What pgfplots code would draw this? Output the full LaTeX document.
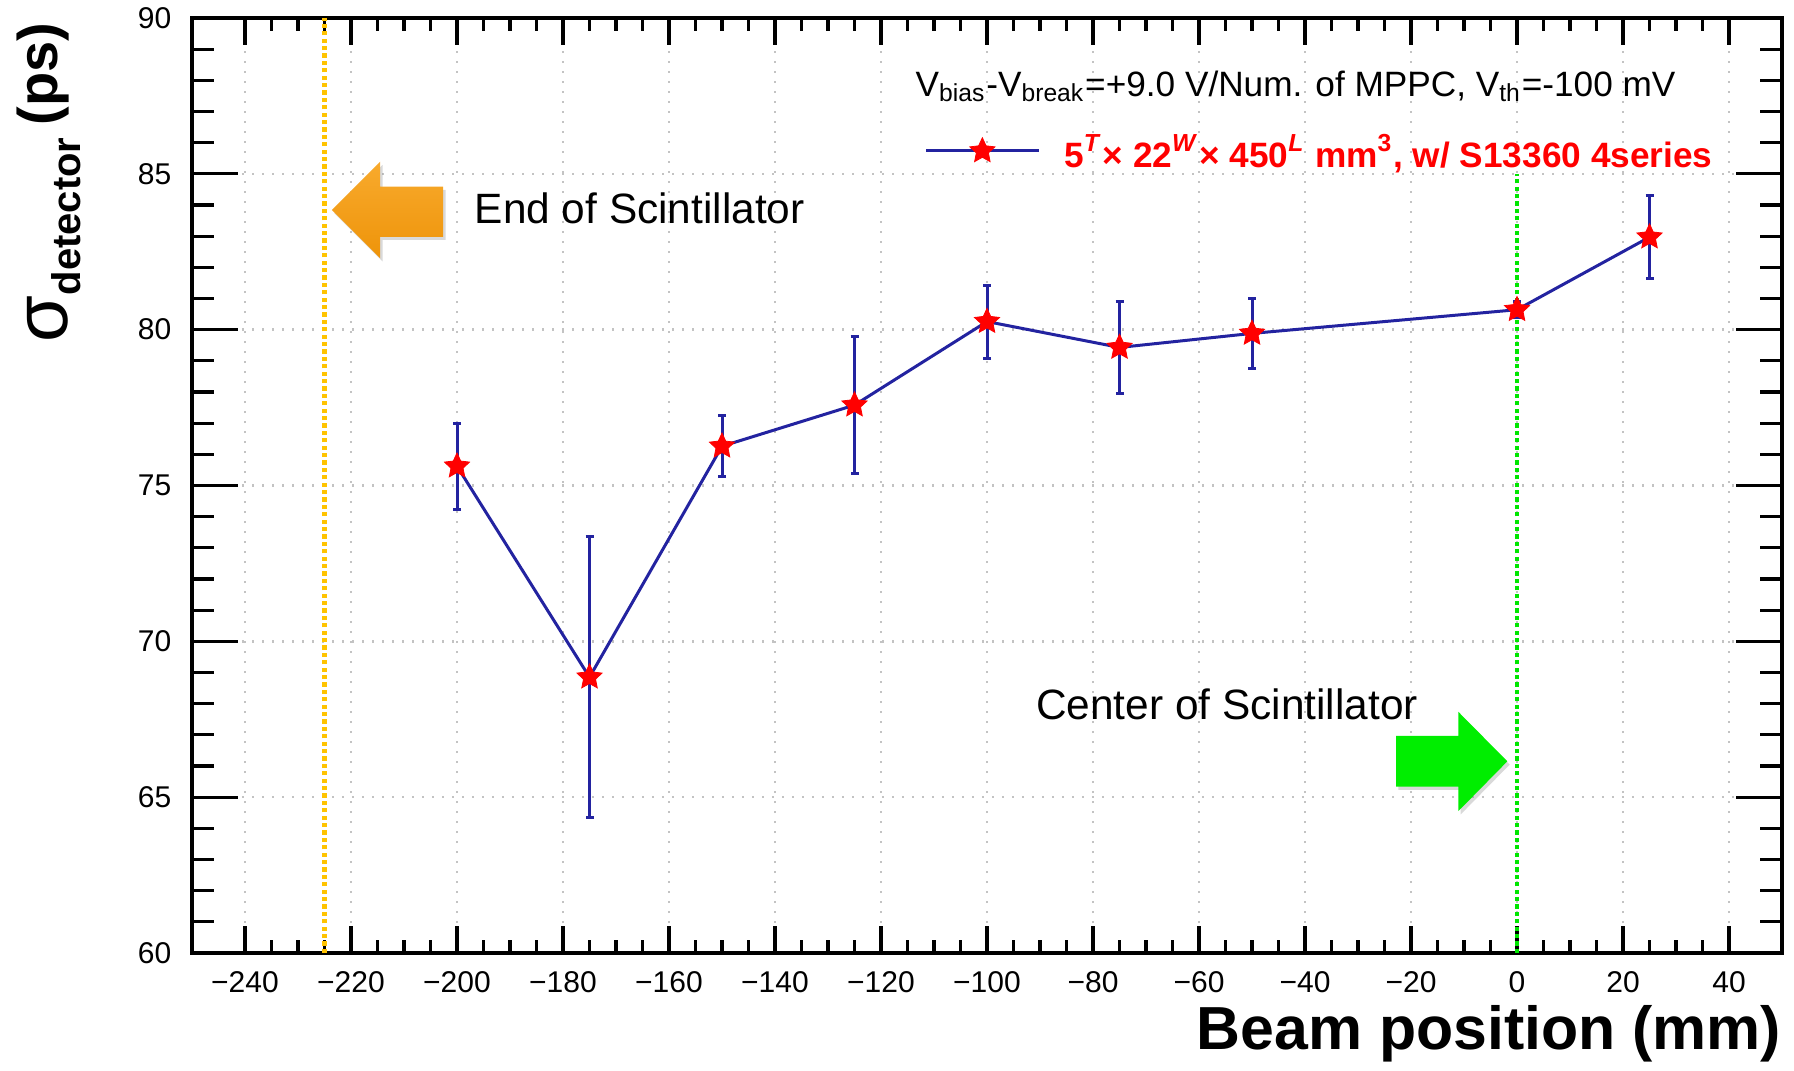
\documentclass[border=0pt]{standalone}
\usepackage{fontspec}
\setmainfont{Liberation Sans}
\usepackage{pgfplots}
\pgfplotsset{compat=1.18}
\usepackage{pgfplotstable}
\usetikzlibrary{shadows}

\definecolor{dataBlue}{RGB}{35,35,160}
\definecolor{gridgray}{RGB}{195,195,195}
\definecolor{orangeL}{RGB}{255,195,0}
\definecolor{greenL}{RGB}{0,230,0}
\definecolor{orTop}{RGB}{248,170,45}
\definecolor{orBot}{RGB}{238,148,10}
\definecolor{grArrow}{RGB}{0,238,0}

\pgfdeclareplotmark{rstar}{%
 \pgfpathmoveto{\pgfpointpolar{90}{\pgfplotmarksize}}%
 \pgfpathlineto{\pgfpointpolar{126}{0.48\pgfplotmarksize}}%
 \pgfpathlineto{\pgfpointpolar{162}{\pgfplotmarksize}}%
 \pgfpathlineto{\pgfpointpolar{198}{0.48\pgfplotmarksize}}%
 \pgfpathlineto{\pgfpointpolar{234}{\pgfplotmarksize}}%
 \pgfpathlineto{\pgfpointpolar{270}{0.48\pgfplotmarksize}}%
 \pgfpathlineto{\pgfpointpolar{306}{\pgfplotmarksize}}%
 \pgfpathlineto{\pgfpointpolar{342}{0.48\pgfplotmarksize}}%
 \pgfpathlineto{\pgfpointpolar{18}{\pgfplotmarksize}}%
 \pgfpathlineto{\pgfpointpolar{54}{0.48\pgfplotmarksize}}%
 \pgfpathclose
 \pgfusepathqfillstroke}

\pgfplotstableread{
x y e
-200 75.62 1.38
-175 68.85 4.51
-150 76.26 0.98
-125 77.58 2.20
-100 80.26 1.17
-75 79.43 1.48
-50 79.88 1.11
0 80.64 0.25
25 82.97 1.33
}\datatable

\begin{document}
\begin{tikzpicture}
% axis with y ticks and horizontal grid
\begin{axis}[
  scale only axis, width=397.5pt, height=233.75pt,
  xmin=-250, xmax=50, ymin=60, ymax=90,
  xtick=\empty,
  ytick={60,65,...,90},
  yticklabels={60,65,70,75,80,85,90},
  minor y tick num=4,
  ymajorgrids,
  major grid style={gridgray, line width=0.6pt, dash pattern=on 0.6pt off 1.9pt},
  major tick length=11.5pt, minor tick length=5.6pt,
  tick style={line width=0.8pt, black},
  axis line style={line width=0.9pt},
  yticklabel style={font=\fontsize{7.5}{9}\selectfont, inner sep=0pt, xshift=-5pt},
  /pgf/number format/assume math mode=true,
]
\end{axis}
% main axis
\begin{axis}[
  scale only axis, width=397.5pt, height=233.75pt,
  xmin=-250, xmax=50, ymin=60, ymax=90,
  xtick={-240,-220,...,40},
  xticklabels={−240,−220,−200,−180,−160,−140,−120,−100,−80,−60,−40,−20,0,20,40},
  minor x tick num=3,
  ytick=\empty,
  xmajorgrids,
  major grid style={gridgray, line width=0.6pt, dash pattern=on 0.6pt off 1.9pt},
  major tick length=6.7pt, minor tick length=3.2pt,
  tick style={line width=0.8pt, black},
  axis line style={line width=0.9pt},
  xticklabel style={font=\fontsize{7.5}{9}\selectfont, inner sep=0pt, yshift=-4.4pt},
  /pgf/number format/assume math mode=true,
  xlabel={\bfseries\fontsize{15.2}{18}\selectfont Beam position (mm)},
  ylabel={{\fontsize{19}{19}\selectfont\raisebox{-2.7pt}{σ}}\raisebox{-5.75pt}{\fontsize{10}{10}\selectfont\bfseries detector}\hspace{3pt}{\fontsize{14}{14}\selectfont\bfseries (ps)}},
  every axis x label/.style={at={(axis description cs:1,-0.1037)}, anchor=base east, inner sep=0pt},
  every axis y label/.style={at={(axis description cs:-0.0849,0.9957)}, rotate=90, anchor=base east, inner sep=0pt},
  legend style={draw=none, fill=none, at={(0.4604,0.8578)}, anchor=west,
    inner xsep=0pt, inner ysep=0pt, cells={anchor=west},
    nodes={inner sep=0pt, text depth=0pt, text=red, font=\bfseries\fontsize{8.8}{10}\selectfont}},
  legend image code/.code={%
    \draw[mark repeat=2, mark phase=2, #1] plot coordinates {(0pt,0pt) (14pt,0pt) (28.25pt,0pt)};
    \path[draw=none, fill=none] (0pt,0pt) -- (34.5pt,0pt);
  },
]
% vertical reference lines
\addplot[orangeL, line width=1.05pt, dash pattern=on 1.05pt off 0.8pt, forget plot] coordinates {(-225,60) (-225,90)};
\addplot[greenL, line width=1.05pt, dash pattern=on 1.05pt off 0.8pt, forget plot] coordinates {(0,60) (0,85)};
% arrows
\path[top color=orTop, bottom color=orBot, drop shadow={shadow xshift=0.6pt, shadow yshift=-0.8pt, opacity=0.3}]
  (axis cs:-223.6,83.84) -- (axis cs:-214.5,85.39) -- (axis cs:-214.5,84.59) -- (axis cs:-202.6,84.59)
  -- (axis cs:-202.6,82.98) -- (axis cs:-214.5,82.98) -- (axis cs:-214.5,82.29) -- cycle;
\path[fill=grArrow, drop shadow={shadow xshift=0.6pt, shadow yshift=-0.8pt, opacity=0.3}]
  (axis cs:-1.83,66.15) -- (axis cs:-11.08,67.74) -- (axis cs:-11.08,66.97) -- (axis cs:-22.83,66.97)
  -- (axis cs:-22.83,65.34) -- (axis cs:-11.08,65.34) -- (axis cs:-11.08,64.55) -- cycle;
% annotations
\node[anchor=base west, inner sep=0pt, font=\fontsize{10.6}{12}\selectfont] at (axis cs:-196.8,83.41) {End of Scintillator};
\node[anchor=base west, inner sep=0pt, font=\fontsize{10.6}{12}\selectfont] at (axis cs:-90.9,67.48) {Center of Scintillator};
\node[anchor=base west, inner sep=0pt, font=\fontsize{8.8}{10}\selectfont] at (axis cs:-113.6,87.48)
  {V\textsubscript{bias}-V\textsubscript{break}=+9.0 V/Num. of MPPC, V\textsubscript{th}=-100 mV};
% data
\addplot[color=dataBlue, line width=0.75pt, mark=rstar, mark size=3.3pt,
  mark options={fill=red, draw=red, line width=0.2pt, solid},
  error bars/.cd, y dir=both, y explicit, error mark=-,
  error bar style={line width=0.75pt, color=dataBlue},
  error mark options={rotate=90, mark size=1pt, line width=0.75pt, color=dataBlue}]
  table[x=x, y=y, y error=e] {\datatable};
\addlegendentry{5\textsuperscript{\textit{T}}× 22\textsuperscript{\textit{W}}× 450\textsuperscript{\textit{L}} mm\textsuperscript{3}, w/ S13360 4series}
\end{axis}
\pgfresetboundingbox
\path[use as bounding box] (-48pt,-29.25pt) rectangle (400.5pt,238.25pt);
\end{tikzpicture}
\end{document}
